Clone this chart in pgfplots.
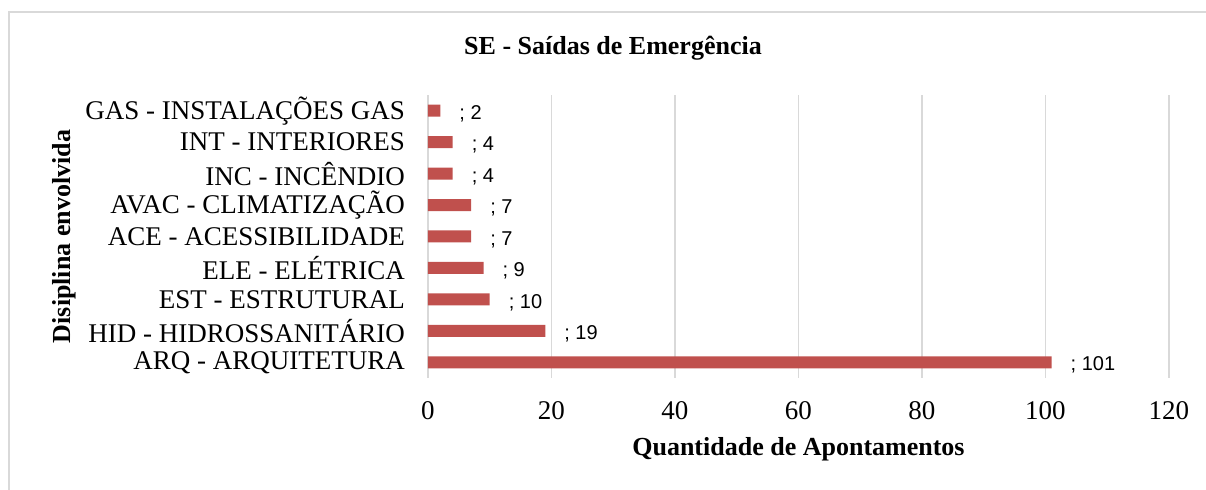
\documentclass[border=0pt]{standalone}
\usepackage{fontspec}
\setmainfont{Liberation Serif}
\newfontfamily\labelfont{Liberation Sans}
\usepackage{pgfplots}
\pgfplotsset{compat=1.18}
\definecolor{barred}{RGB}{192,80,77}
\definecolor{gridgray}{RGB}{217,217,217}
\definecolor{framegray}{RGB}{217,217,217}
\begin{document}
\begin{tikzpicture}
\useasboundingbox (-214pt,-56pt) rectangle (389pt,189pt);
\draw[framegray, line width=0.8pt] (-209.5pt,-60pt) -- (-209.5pt,183pt) -- (395pt,183pt);
\begin{axis}[
  at={(0,0)}, anchor=south west,
  scale only axis,
  width=370.5pt, height=141.5pt,
  xbar,
  bar width=6pt,
  xmin=0, xmax=120,
  ymin=0.5, ymax=9.5,
  xtick={0,20,...,120},
  ytick={1,...,9},
  yticklabels={
    ARQ - ARQUITETURA\hspace{4pt},
    HID - HIDROSSANITÁRIO,
    EST - ESTRUTURAL,
    ELE - ELÉTRICA,
    ACE - ACESSIBILIDADE,
    AVAC - CLIMATIZAÇÃO,
    INC - INCÊNDIO,
    INT - INTERIORES,
    GAS - INSTALAÇÕES GAS\hspace{3pt}
  },
  axis line style={draw=none},
  major tick length=0pt,
  xmajorgrids=true,
  grid style={gridgray, line width=0.8pt},
  /pgf/number format/assume math mode=true,
  tick label style={font=\fontsize{13.5}{15}\selectfont},
  xticklabel style={yshift=-8pt},
  yticklabel style={xshift=-8pt},
  xlabel={\textbf{Quantidade de Apontamentos}},
  xlabel style={font=\fontsize{13}{15}\selectfont, yshift=-2pt},
  ylabel={\textbf{Disiplina envolvida}},
  ylabel style={font=\fontsize{13}{15}\selectfont, yshift=-2pt},
  nodes near coords={; \pgfmathprintnumber{\pgfplotspointmeta}},
  nodes near coords align={horizontal},
  every node near coord/.append style={font=\labelfont\fontsize{10}{12}\selectfont, anchor=west, xshift=6pt, yshift=-1.5pt},
  clip=false,
]
\addplot[fill=barred, draw=none] coordinates {
  (101,1) (19,2) (10,3) (9,4) (7,5) (7,6) (4,7) (4,8) (2,9)
};
\end{axis}
\node[font=\fontsize{13}{15}\selectfont\bfseries] at (92.5pt,165pt) {SE - Saídas de Emergência};
\end{tikzpicture}
\end{document}
